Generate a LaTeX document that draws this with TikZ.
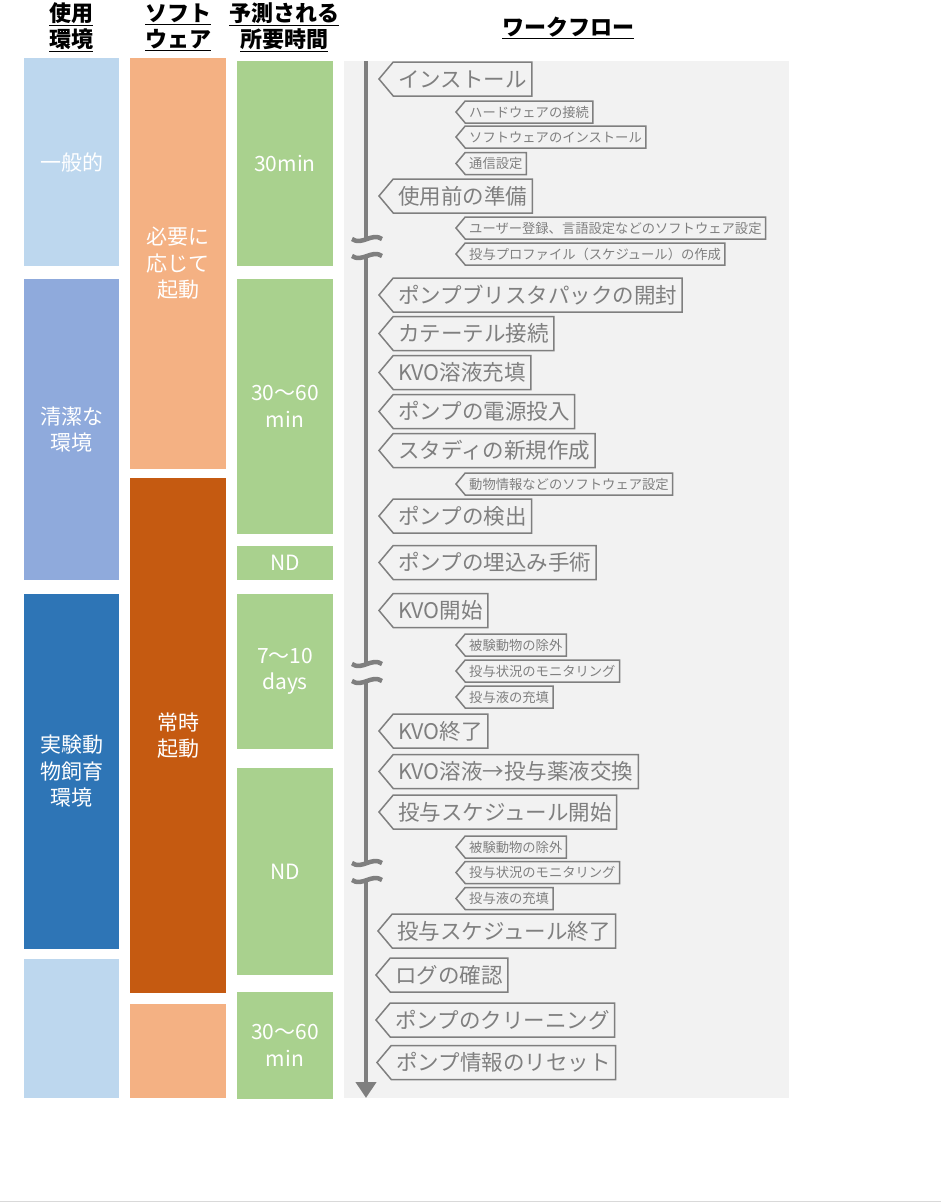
\documentclass[tikz,border=0pt]{standalone}
\usepackage{fontspec}
\setmainfont{Noto Sans CJK JP}
\usepackage{tikz}
\usetikzlibrary{shapes.symbols, arrows.meta, positioning}
\definecolor{envlight}{HTML}{BDD7EE}
\definecolor{envmid}{HTML}{8FAADC}
\definecolor{envdark}{HTML}{2E75B6}
\definecolor{swlight}{HTML}{F4B183}
\definecolor{swdark}{HTML}{C55A11}
\definecolor{timegreen}{HTML}{A9D18E}
\definecolor{flowbg}{HTML}{F2F2F2}
\definecolor{flowgray}{HTML}{7F7F7F}
\newcommand{\fsz}[2]{\fontsize{#1bp}{#2bp}\selectfont}
\tikzset{
  colbox/.style={inner sep=0pt, text=white, align=center, font=\fsz{21}{26.5}},
  headtxt/.style={align=center, text=black, font=\bfseries\fsz{22}{26}},
  bigstep/.style={signal, signal to=west, signal pointer angle=100,
    draw=flowgray, fill=flowbg, line width=1.5bp, text=flowgray,
    font=\fsz{21.5}{24}, minimum height=34bp, inner ysep=0pt,
    inner xsep=5bp, anchor=west},
  substep/.style={bigstep, font=\fsz{13.3}{15}, minimum height=22bp,
    inner xsep=4bp},
}

\begin{document}
\begin{tikzpicture}[x=1bp, y=-1bp]
    \useasboundingbox (0,0) rectangle (941,1202);
    % Column headers
    \node[headtxt] (hdenv) at (71,27) {\underline{使用}\\\underline{環境}};
    \node[headtxt] (hdsw) at (178,27) {\underline{ソフト}\\\underline{ウェア}};
    \node[headtxt] (hdtime) at (284,27) {\underline{予測される}\\\underline{所要時間}};
    \node[headtxt] (hdflow) at (568,28) {\underline{ワークフロー}};
    % Environment column
    \foreach \n/\cy/\h/\c/\t in {1/162/208/envlight/一般的,
        2/429.5/301/envmid/{清潔な\\環境},
        3/771.5/355/envdark/{実験動\\物飼育\\環境},
        4/1028.5/139/envlight/{}} {
        \node[colbox, fill=\c, minimum width=95bp, minimum height=\h bp]
            (env\n) at (71.5,\cy) {\t};
    }
    % Software column
    \foreach \n/\cy/\h/\c/\t in {1/263.5/411/swlight/{必要に\\応じて\\起動},
        2/735.5/515/swdark/{常時\\起動},
        3/1051/94/swlight/{}} {
        \node[colbox, fill=\c, minimum width=96bp, minimum height=\h bp]
            (sw\n) at (178,\cy) {\t};
    }
    % Time column
    \foreach \n/\cy/\h/\t in {1/163.5/205/30min,
        2/406.5/255/{30〜60\\min},
        3/563/34/ND,
        4/671.5/155/{7〜10\\days},
        5/871.5/207/ND,
        6/1045.5/107/{30〜60\\min}} {
        \node[colbox, fill=timegreen, minimum width=96bp, minimum height=\h bp]
            (time\n) at (285,\cy) {\t};
    }
    % Workflow panel and time axis
    \fill[flowbg] (344,61) rectangle (789,1098);
    \coordinate (flowtop) at (366,61);
    \coordinate (flowend) at (366,1098);
    \draw[flowgray, line width=4bp, -{Triangle[width=20bp,length=16bp]}]
        (flowtop) -- (flowend);
    % Breaks in the axis
    \foreach \b in {247,672,871} {
        \fill[flowbg] (354,\b-8) rectangle (380,\b+9);
        \draw[flowgray, line width=4.5bp] (352,\b-8) .. controls (362,\b-1)
            and (372,\b-15) .. (382,\b-8);
        \draw[flowgray, line width=4.5bp] (352,\b+9) .. controls (362,\b+16)
            and (372,\b+2) .. (382,\b+9);
    }
    % Main steps
    \foreach \i/\x/\y/\t in {1/378/79/インストール,
        2/378/196/使用前の準備,
        3/378/295/ポンプブリスタパックの開封,
        4/378/333.5/カテーテル接続,
        5/378/372.5/KVO溶液充填,
        6/378/411.5/ポンプの電源投入,
        7/378/450.5/スタディの新規作成,
        8/378/516/ポンプの検出,
        9/378/562.5/ポンプの埋込み手術,
        10/378/610.5/KVO開始,
        11/378/731/KVO終了,
        12/378/771.5/KVO溶液→投与薬液交換,
        13/378/812/投与スケジュール開始,
        14/377/931/投与スケジュール終了,
        15/375/975/ログの確認,
        16/375/1020/ポンプのクリーニング,
        17/376/1062.5/ポンプ情報のリセット} {
        \node[bigstep] (big\i) at (\x,\y) {\t};
    }
    % Sub steps
    \foreach \i/\y/\t in {1/112/ハードウェアの接続,
        2/137/ソフトウェアのインストール,
        3/163.5/通信設定,
        4/228/ユーザー登録、言語設定などのソフトウェア設定,
        5/254/投与プロファイル（スケジュール）の作成,
        6/484/動物情報などのソフトウェア設定,
        7/645/被験動物の除外,
        8/671/投与状況のモニタリング,
        9/697/投与液の充填,
        10/847/被験動物の除外,
        11/872.5/投与状況のモニタリング,
        12/898.5/投与液の充填} {
        \node[substep] (sub\i) at (455,\y) {\t};
    }
    % Page edge
    \draw[black!15, line width=1bp] (0,1201) -- (941,1201);
\end{tikzpicture}
\end{document}
